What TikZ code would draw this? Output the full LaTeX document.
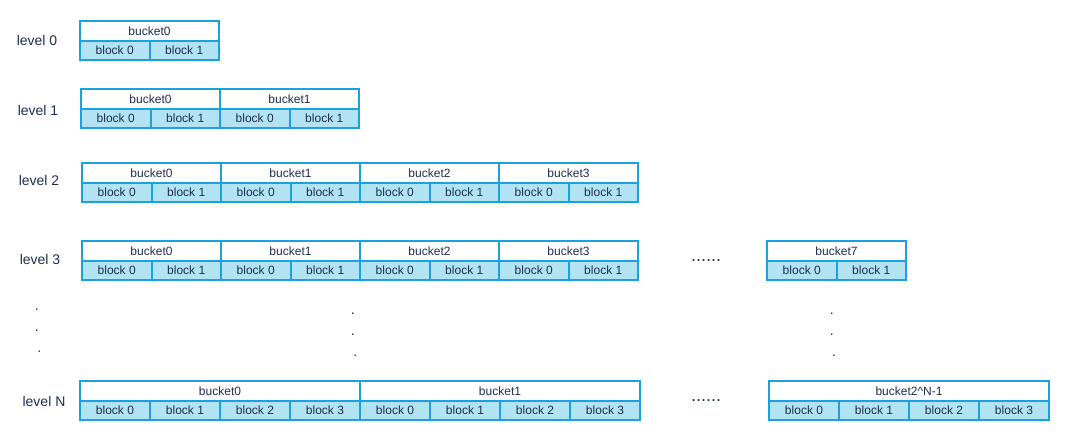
\documentclass[tikz,border=0pt]{standalone}
\usepackage{fontspec}
\setmainfont{Liberation Sans}
\definecolor{bd}{RGB}{27,161,226}
\definecolor{fl}{RGB}{177,227,243}
\definecolor{tx}{RGB}{30,45,80}
\tikzset{
  cellbase/.style={rectangle, draw=bd, line width=1.5pt, inner sep=0pt, anchor=north west,
    minimum height=19.5*0.75pt, text=tx, font=\fontsize{9pt}{10pt}\selectfont},
  bucketcell/.style={cellbase, fill=white},
  blockcell/.style={cellbase, fill=fl},
  levellabel/.style={text=tx, font=\fontsize{10.5pt}{12pt}\selectfont, inner sep=0pt},
  ellip/.style={text=tx, font=\fontsize{13.5pt}{14pt}\selectfont, inner sep=0pt},
  vdot/.style={text=tx, font=\fontsize{10.5pt}{12pt}\selectfont, inner sep=0pt, anchor=base},
}
\newcommand\bucketrow[6]{%
  \pgfmathsetmacro\bwid{#5/#6}%
  \pgfmathtruncatemacro\nlast{#6-1}%
  \node[bucketcell, minimum width=#5*0.75pt] (#1) at (#2,#3) {#4};
  \foreach \k in {0,...,\nlast}{
    \pgfmathsetmacro\xx{#2+\k*\bwid}
    \node[blockcell, minimum width=\bwid*0.75pt] (#1k\k) at (\xx,#3+19.5) {block \k};
  }
}
\begin{document}
\begin{tikzpicture}[x=0.75pt,y=-0.75pt]
\useasboundingbox (0,0) rectangle (1068,440);
% level labels
\node[levellabel] (lab0) at (37,40) {level 0};
\node[levellabel] (lab1) at (38,110) {level 1};
\node[levellabel] (lab2) at (39,180) {level 2};
\node[levellabel] (lab3) at (40,259) {level 3};
\node[levellabel] (labN) at (44,401) {level N};
% level 0
\bucketrow{Az}{79}{20}{bucket0}{139}{2}
% level 1
\bucketrow{Ba}{80}{88}{bucket0}{139}{2}
\bucketrow{Bb}{219}{88}{bucket1}{139}{2}
% level 2
\bucketrow{Ca}{81}{162}{bucket0}{139}{2}
\bucketrow{Cb}{220}{162}{bucket1}{139}{2}
\bucketrow{Cc}{359}{162}{bucket2}{139}{2}
\bucketrow{Cd}{498}{162}{bucket3}{139}{2}
% level 3
\bucketrow{Da}{81}{240}{bucket0}{139}{2}
\bucketrow{Db}{220}{240}{bucket1}{139}{2}
\bucketrow{Dc}{359}{240}{bucket2}{139}{2}
\bucketrow{Dd}{498}{240}{bucket3}{139}{2}
\bucketrow{Dh}{766}{240}{bucket7}{139}{2}
% level N
\bucketrow{Na}{79}{380}{bucket0}{280}{4}
\bucketrow{Nb}{359}{380}{bucket1}{280}{4}
\bucketrow{Nz}{768}{380}{bucket2\^{}N-1}{280}{4}
% ellipses
\node[ellip] (e3) at (706,261) {......};
\node[ellip] (eN) at (706,401) {......};
% vertical dots
\node[vdot] (va1) at (36.7,310.1) {.};
\node[vdot] (va2) at (36.7,331.5) {.};
\node[vdot] (va3) at (39.3,352.5) {.};
\node[vdot] (vb1) at (352.7,314.1) {.};
\node[vdot] (vb2) at (352.7,335.1) {.};
\node[vdot] (vb3) at (355.3,356.1) {.};
\node[vdot] (vc1) at (831.7,314.1) {.};
\node[vdot] (vc2) at (831.7,335.5) {.};
\node[vdot] (vc3) at (834,356.5) {.};
\end{tikzpicture}
\end{document}
